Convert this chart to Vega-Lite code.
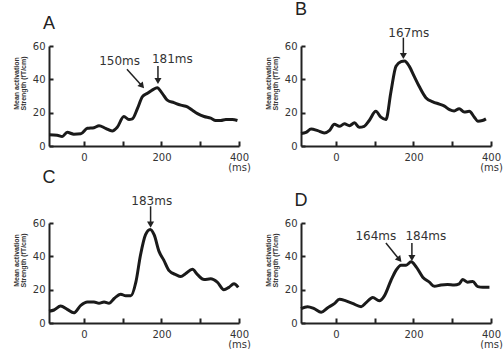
{
  "$schema": "https://vega.github.io/schema/vega-lite/v6.json",
  "padding": {"left": 12, "top": 0, "right": 0, "bottom": 0},
  "background": "white",
  "bounds": "flush",
  "config": {
    "view": {"stroke": null},
    "font": "Liberation Sans"
  },
  "data": {"values": [
    {"panel":"A","kind":"curve","t":-90,"v":6.7},{"panel":"A","kind":"curve","t":-69,"v":6.5},{"panel":"A","kind":"curve","t":-56,"v":5.7},{"panel":"A","kind":"curve","t":-43,"v":8.2},{"panel":"A","kind":"curve","t":-26,"v":7.1},{"panel":"A","kind":"curve","t":-8,"v":7.3},{"panel":"A","kind":"curve","t":9,"v":10.6},{"panel":"A","kind":"curve","t":26,"v":11},{"panel":"A","kind":"curve","t":39,"v":12.2},{"panel":"A","kind":"curve","t":56,"v":10.6},{"panel":"A","kind":"curve","t":73,"v":9},{"panel":"A","kind":"curve","t":86,"v":11.2},{"panel":"A","kind":"curve","t":103,"v":17.7},{"panel":"A","kind":"curve","t":116,"v":15.9},{"panel":"A","kind":"curve","t":125,"v":16.3},{"panel":"A","kind":"curve","t":138,"v":22.4},{"panel":"A","kind":"curve","t":151,"v":29.6},{"panel":"A","kind":"curve","t":164,"v":31.6},{"panel":"A","kind":"curve","t":177,"v":33.7},{"panel":"A","kind":"curve","t":189,"v":35},{"panel":"A","kind":"curve","t":202,"v":31.6},{"panel":"A","kind":"curve","t":215,"v":27.5},{"panel":"A","kind":"curve","t":232,"v":26},{"panel":"A","kind":"curve","t":250,"v":24.5},{"panel":"A","kind":"curve","t":267,"v":23.5},{"panel":"A","kind":"curve","t":280,"v":21.4},{"panel":"A","kind":"curve","t":293,"v":19.4},{"panel":"A","kind":"curve","t":310,"v":17.7},{"panel":"A","kind":"curve","t":327,"v":16.7},{"panel":"A","kind":"curve","t":340,"v":15.3},{"panel":"A","kind":"curve","t":353,"v":15.3},{"panel":"A","kind":"curve","t":366,"v":15.9},{"panel":"A","kind":"curve","t":383,"v":15.9},{"panel":"A","kind":"curve","t":396,"v":15.3},
    {"panel":"B","kind":"curve","t":-90,"v":7.5},{"panel":"B","kind":"curve","t":-77,"v":8.2},{"panel":"B","kind":"curve","t":-64,"v":10.2},{"panel":"B","kind":"curve","t":-47,"v":9.2},{"panel":"B","kind":"curve","t":-30,"v":7.8},{"panel":"B","kind":"curve","t":-17,"v":9.2},{"panel":"B","kind":"curve","t":-4,"v":13},{"panel":"B","kind":"curve","t":9,"v":11.8},{"panel":"B","kind":"curve","t":22,"v":13.3},{"panel":"B","kind":"curve","t":35,"v":12.2},{"panel":"B","kind":"curve","t":48,"v":13.9},{"panel":"B","kind":"curve","t":60,"v":11.2},{"panel":"B","kind":"curve","t":73,"v":11.8},{"panel":"B","kind":"curve","t":86,"v":15.3},{"panel":"B","kind":"curve","t":103,"v":20.8},{"panel":"B","kind":"curve","t":116,"v":17.3},{"panel":"B","kind":"curve","t":129,"v":15.9},{"panel":"B","kind":"curve","t":142,"v":32.6},{"panel":"B","kind":"curve","t":155,"v":47.9},{"panel":"B","kind":"curve","t":168,"v":50.6},{"panel":"B","kind":"curve","t":177,"v":51},{"panel":"B","kind":"curve","t":189,"v":47.9},{"panel":"B","kind":"curve","t":202,"v":41.8},{"panel":"B","kind":"curve","t":215,"v":35.7},{"panel":"B","kind":"curve","t":232,"v":29},{"panel":"B","kind":"curve","t":250,"v":26.5},{"panel":"B","kind":"curve","t":267,"v":25.1},{"panel":"B","kind":"curve","t":280,"v":23.9},{"panel":"B","kind":"curve","t":293,"v":21.8},{"panel":"B","kind":"curve","t":305,"v":21},{"panel":"B","kind":"curve","t":318,"v":22.4},{"panel":"B","kind":"curve","t":331,"v":20.4},{"panel":"B","kind":"curve","t":344,"v":20.8},{"panel":"B","kind":"curve","t":357,"v":17.3},{"panel":"B","kind":"curve","t":366,"v":14.9},{"panel":"B","kind":"curve","t":378,"v":15.3},{"panel":"B","kind":"curve","t":387,"v":16.3},
    {"panel":"C","kind":"curve","t":-90,"v":7.1},{"panel":"C","kind":"curve","t":-77,"v":7.8},{"panel":"C","kind":"curve","t":-60,"v":10.2},{"panel":"C","kind":"curve","t":-43,"v":8.2},{"panel":"C","kind":"curve","t":-26,"v":6.1},{"panel":"C","kind":"curve","t":-8,"v":10.6},{"panel":"C","kind":"curve","t":9,"v":12.6},{"panel":"C","kind":"curve","t":26,"v":12.6},{"panel":"C","kind":"curve","t":39,"v":11.8},{"panel":"C","kind":"curve","t":52,"v":12.6},{"panel":"C","kind":"curve","t":65,"v":11.8},{"panel":"C","kind":"curve","t":78,"v":14.7},{"panel":"C","kind":"curve","t":95,"v":17.3},{"panel":"C","kind":"curve","t":108,"v":16.3},{"panel":"C","kind":"curve","t":121,"v":16.3},{"panel":"C","kind":"curve","t":134,"v":24.5},{"panel":"C","kind":"curve","t":146,"v":40.8},{"panel":"C","kind":"curve","t":159,"v":53},{"panel":"C","kind":"curve","t":171,"v":56.1},{"panel":"C","kind":"curve","t":181,"v":53},{"panel":"C","kind":"curve","t":194,"v":42.8},{"panel":"C","kind":"curve","t":206,"v":37.7},{"panel":"C","kind":"curve","t":219,"v":31.6},{"panel":"C","kind":"curve","t":237,"v":29},{"panel":"C","kind":"curve","t":250,"v":27.9},{"panel":"C","kind":"curve","t":262,"v":29.6},{"panel":"C","kind":"curve","t":280,"v":32.2},{"panel":"C","kind":"curve","t":293,"v":29},{"panel":"C","kind":"curve","t":310,"v":26.1},{"panel":"C","kind":"curve","t":327,"v":26.5},{"panel":"C","kind":"curve","t":344,"v":24.5},{"panel":"C","kind":"curve","t":361,"v":20},{"panel":"C","kind":"curve","t":374,"v":21.4},{"panel":"C","kind":"curve","t":387,"v":23.5},{"panel":"C","kind":"curve","t":398,"v":21.4},
    {"panel":"D","kind":"curve","t":-90,"v":8.6},{"panel":"D","kind":"curve","t":-73,"v":9.8},{"panel":"D","kind":"curve","t":-56,"v":8.6},{"panel":"D","kind":"curve","t":-38,"v":6.5},{"panel":"D","kind":"curve","t":-21,"v":9.2},{"panel":"D","kind":"curve","t":-4,"v":11.6},{"panel":"D","kind":"curve","t":9,"v":14.3},{"panel":"D","kind":"curve","t":26,"v":13.3},{"panel":"D","kind":"curve","t":43,"v":11.8},{"panel":"D","kind":"curve","t":65,"v":9.8},{"panel":"D","kind":"curve","t":78,"v":12.2},{"panel":"D","kind":"curve","t":95,"v":15.3},{"panel":"D","kind":"curve","t":112,"v":13.3},{"panel":"D","kind":"curve","t":125,"v":16.3},{"panel":"D","kind":"curve","t":142,"v":25.5},{"panel":"D","kind":"curve","t":155,"v":31.6},{"panel":"D","kind":"curve","t":168,"v":34.7},{"panel":"D","kind":"curve","t":181,"v":34.7},{"panel":"D","kind":"curve","t":194,"v":36.7},{"panel":"D","kind":"curve","t":207,"v":33.7},{"panel":"D","kind":"curve","t":224,"v":27.5},{"panel":"D","kind":"curve","t":241,"v":24.5},{"panel":"D","kind":"curve","t":254,"v":22},{"panel":"D","kind":"curve","t":271,"v":22.8},{"panel":"D","kind":"curve","t":288,"v":23.1},{"panel":"D","kind":"curve","t":305,"v":22.8},{"panel":"D","kind":"curve","t":318,"v":23.5},{"panel":"D","kind":"curve","t":327,"v":26.1},{"panel":"D","kind":"curve","t":340,"v":24.5},{"panel":"D","kind":"curve","t":353,"v":24.9},{"panel":"D","kind":"curve","t":366,"v":21.8},{"panel":"D","kind":"curve","t":379,"v":21.4},{"panel":"D","kind":"curve","t":396,"v":21.4},
    {"panel":"A","kind":"label","t":92,"v":51,"text":"150ms"},
    {"panel":"A","kind":"label","t":228,"v":52,"text":"181ms"},
    {"panel":"B","kind":"label","t":188,"v":68,"text":"167ms"},
    {"panel":"C","kind":"label","t":175,"v":73,"text":"183ms"},
    {"panel":"D","kind":"label","t":103,"v":52,"text":"164ms"},
    {"panel":"D","kind":"label","t":232,"v":52,"text":"184ms"},
    {"panel":"A","kind":"arrowd","t":111,"v":46,"t2":150,"v2":36},
    {"panel":"A","kind":"arrowv","t":191,"v":48,"t2":191,"v2":39},
    {"panel":"B","kind":"arrowv","t":174,"v":65,"t2":174,"v2":54},
    {"panel":"C","kind":"arrowv","t":172,"v":70,"t2":172,"v2":59},
    {"panel":"D","kind":"arrowd","t":129,"v":48,"t2":164,"v2":38},
    {"panel":"D","kind":"arrowv","t":196,"v":48,"t2":196,"v2":39}
  ]},
  "facet": {"field": "panel", "type": "nominal", "title": null,
    "header": {"labelFontSize": 18, "labelAnchor": "start", "labelAlign": "center", "labelPadding": 8, "labelColor": "#222", "labelFont": "Liberation Sans"}},
  "columns": 2,
  "spacing": {"column": 62, "row": 77},
  "resolve": {"axis": {"x": "independent", "y": "independent"}},
  "spec": {
    "width": 190,
    "height": 100,
    "encoding": {
      "x": {"field": "t", "type": "quantitative",
        "scale": {"domain": [-90, 400], "nice": false, "zero": false},
        "axis": {"title": null, "values": [0, 100, 200, 300, 400],
          "labelExpr": "datum.value == 400 ? ['400', '(ms)'] : (datum.value % 200 == 0 ? datum.label : '')",
          "labelFlush": false, "labelOverlap": false, "ticks": false,
          "grid": true, "gridDash": [0, 95, 5, 600], "gridColor": "#222", "gridWidth": 2, "gridOpacity": 1,
          "domainColor": "#222", "domainWidth": 2, "labelPadding": 6, "labelFontSize": 10, "labelFont": "DejaVu Sans",
          "labelColor": "#333", "labelLineHeight": 10}},
      "y": {"field": "v", "type": "quantitative",
        "scale": {"domain": [0, 60], "nice": false},
        "axis": {"title": ["Mean activation", "Strength (fT/cm)"], "titleFontSize": 7, "titleFontWeight": "bold",
          "titleColor": "#333", "titleLineHeight": 7, "titlePadding": 6, "titleY": 37,
          "values": [0, 20, 40, 60], "ticks": false,
          "grid": true, "gridDash": [4, 600], "gridColor": "#222", "gridWidth": 2, "gridOpacity": 1,
          "domainColor": "#222", "domainWidth": 2, "labelPadding": 4, "labelFontSize": 10, "labelFont": "DejaVu Sans",
          "labelColor": "#333", "labelOverlap": false}}
    },
    "layer": [
      {"transform": [{"filter": "datum.kind == 'curve'"}],
       "mark": {"type": "line", "color": "#1a1a1a", "strokeWidth": 3, "interpolate": "monotone"}},
      {"transform": [{"filter": "datum.kind == 'label'"}],
       "mark": {"type": "text", "fontSize": 12, "color": "#333", "font": "DejaVu Sans"},
       "encoding": {"text": {"field": "text"}}},
      {"transform": [{"filter": "datum.kind == 'arrowd' || datum.kind == 'arrowv'"}],
       "mark": {"type": "rule", "color": "#222", "strokeWidth": 1.5},
       "encoding": {"x2": {"field": "t2"}, "y2": {"field": "v2"}}},
      {"transform": [{"filter": "datum.kind == 'arrowv'"}],
       "mark": {"type": "point", "shape": "triangle-down", "filled": true, "color": "#222", "size": 50, "opacity": 1},
       "encoding": {"x": {"field": "t2", "type": "quantitative"}, "y": {"field": "v2", "type": "quantitative"}}},
      {"transform": [{"filter": "datum.kind == 'arrowd'"}],
       "mark": {"type": "point", "shape": "triangle-down", "filled": true, "color": "#222", "size": 50, "opacity": 1, "angle": 320},
       "encoding": {"x": {"field": "t2", "type": "quantitative"}, "y": {"field": "v2", "type": "quantitative"}}}
    ]
  }
}
